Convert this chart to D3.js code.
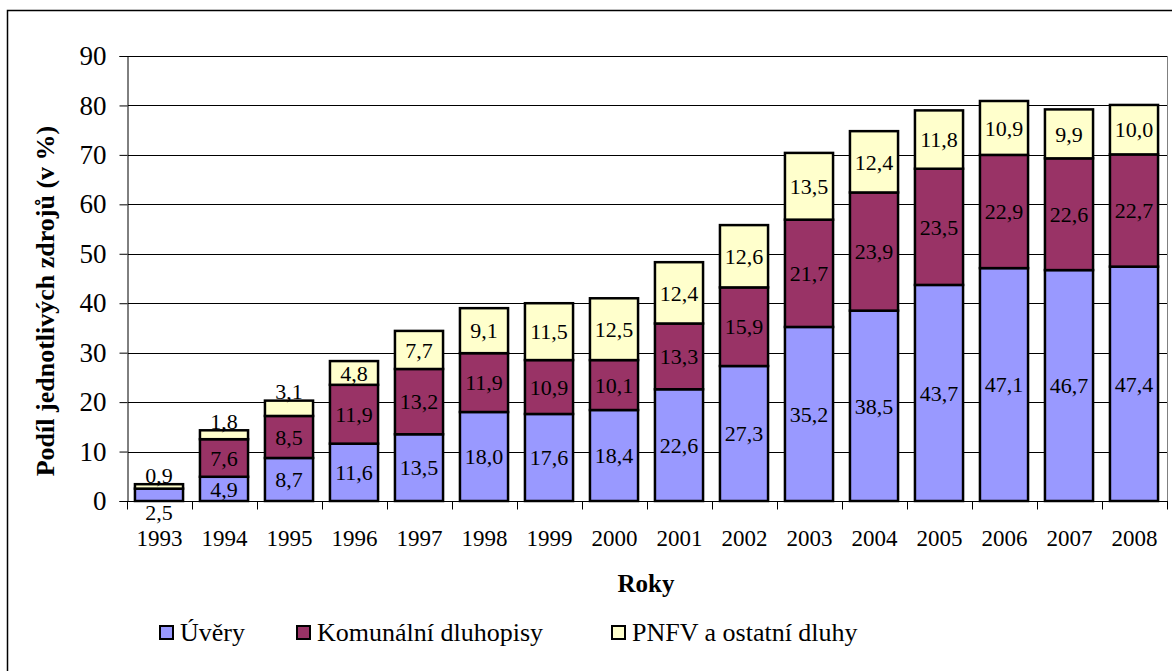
<!DOCTYPE html>
<html>
<head>
<meta charset="utf-8">
<script src="https://cdn.jsdelivr.net/npm/d3@7"></script>
<style>
  body { margin: 0; background: #fff; }
</style>
</head>
<body>
<div class="container"></div>
<script>
const years = ["1993","1994","1995","1996","1997","1998","1999","2000","2001","2002","2003","2004","2005","2006","2007","2008"]
const uvery = [2.5, 4.9, 8.7, 11.6, 13.5, 18.0, 17.6, 18.4, 22.6, 27.3, 35.2, 38.5, 43.7, 47.1, 46.7, 47.4]
const komunalni = [0, 7.6, 8.5, 11.9, 13.2, 11.9, 10.9, 10.1, 13.3, 15.9, 21.7, 23.9, 23.5, 22.9, 22.6, 22.7]
const pnfv = [0.9, 1.8, 3.1, 4.8, 7.7, 9.1, 11.5, 12.5, 12.4, 12.6, 13.5, 12.4, 11.8, 10.9, 9.9, 10.0]
const seriesNames = ["Úvěry", "Komunální dluhopisy", "PNFV a ostatní dluhy"]
const yTicks = [0, 10, 20, 30, 40, 50, 60, 70, 80, 90]

const colors = ["#9999ff", "#993366", "#ffffcc"]
const FONT = "Liberation Serif"
const width = 1172, height = 671
const margin = { top: 56, bottom: 170, left: 128, right: 4 }

const svg = d3.select(".container")
    .append("svg")
    .attr("width", width)
    .attr("height", height)
    .attr("font-family", FONT)

// outer chart frame (right/bottom edges fall outside the picture)
svg.append("rect")
    .attr("x", 7.5).attr("y", 10.5)
    .attr("width", 1200).attr("height", 700)
    .attr("fill", "none").attr("stroke", "#000").attr("stroke-width", 1.5)

const x = d3.scaleBand()
    .domain(years)
    .range([margin.left, width - margin.right])
    .paddingInner(0.26)
    .paddingOuter(0.13)

const y = d3.scaleLinear()
    .domain([0, 90])
    .range([height - margin.bottom, margin.top])

// gridlines
svg.append("g")
    .selectAll("line")
    .data(yTicks.slice(1))
    .join("line")
    .attr("x1", margin.left).attr("x2", width - margin.right)
    .attr("y1", d => Math.round(y(d)) + 0.5).attr("y2", d => Math.round(y(d)) + 0.5)
    .attr("stroke", "#000").attr("stroke-width", 1)

// right border of plot area
svg.append("line")
    .attr("x1", width - margin.right - 0.5).attr("x2", width - margin.right - 0.5)
    .attr("y1", y(90)).attr("y2", y(0))
    .attr("stroke", "#808080")

const data = years.map((yr, i) => ({ year: yr, v: [uvery[i], komunalni[i], pnfv[i]] }))

const bars = svg.append("g")
data.forEach(d => {
    let base = 0
    d.v.forEach((val, s) => {
        if (val > 0) {
            bars.append("rect")
                .attr("x", x(d.year) - 1.5)
                .attr("width", x.bandwidth())
                .attr("y", y(base + val))
                .attr("height", y(base) - y(base + val))
                .attr("fill", colors[s])
                .attr("stroke", "#000")
                .attr("stroke-width", 2.5)
        }
        base += val
    })
})

// axes
const xAxis = svg.append("g")
    .attr("transform", `translate(0, ${Math.round(y(0)) + 0.5})`)
xAxis.append("line")
    .attr("x1", margin.left).attr("x2", width - margin.right)
    .attr("stroke", "#000")
xAxis.selectAll("line.tick")
    .data(d3.range(years.length + 1))
    .join("line")
    .attr("class", "tick")
    .attr("x1", i => Math.round(margin.left + i * x.step()) - 0.5)
    .attr("x2", i => Math.round(margin.left + i * x.step()) - 0.5)
    .attr("y1", 0).attr("y2", 8)
    .attr("stroke", "#000")
xAxis.selectAll("text")
    .data(years)
    .join("text")
    .attr("x", d => x(d) + x.bandwidth() / 2 - 1)
    .attr("y", 44)
    .attr("text-anchor", "middle")
    .attr("font-size", 23)
    .text(d => d)

const yAxis = svg.append("g")
    .attr("transform", `translate(${margin.left - 0.5}, 0)`)
    .call(d3.axisLeft(y).tickValues(yTicks).tickSize(8).tickPadding(13))
yAxis.attr("font-family", FONT).attr("font-size", 27)
yAxis.select(".domain").attr("stroke", "#000")
yAxis.selectAll(".tick line").attr("stroke", "#000")
yAxis.selectAll(".tick text").attr("fill", "#000")

// data labels
const fmt = v => v.toFixed(1).replace(".", ",")
const labels = svg.append("g")
    .attr("font-size", 22)
data.forEach((d, i) => {
    let base = 0
    d.v.forEach((val, s) => {
        if (val > 0) {
            const top = y(base + val), bot = y(base)
            const total = d.v[0] + d.v[1] + d.v[2]
            let ly = (top + bot) / 2
            if (bot - top < 20) {
                // small segments: label outside the bar
                ly = (s === 0 && i === 0) ? y(0) + 11 : y(total) - 9
            }
            labels.append("text")
                .attr("x", x(d.year) + x.bandwidth() / 2 - 1.5)
                .attr("y", ly)
                .attr("dy", "0.35em")
                .attr("text-anchor", "middle")
                .text(fmt(val))
        }
        base += val
    })
})

// axis titles
svg.append("text")
    .attr("transform", "translate(54, 301) rotate(-90)")
    .attr("text-anchor", "middle")
    .attr("font-size", 26)
    .attr("font-weight", "bold")
    .text("Podíl jednotlivých zdrojů (v %)")

svg.append("text")
    .attr("x", 646)
    .attr("y", 592)
    .attr("text-anchor", "middle")
    .attr("font-size", 25)
    .attr("font-weight", "bold")
    .text("Roky")

// legend
const legendX = [160, 297, 612]
const legend = svg.append("g")
    .attr("font-size", 26)
seriesNames.forEach((name, s) => {
    legend.append("rect")
        .attr("x", legendX[s]).attr("y", 626)
        .attr("width", 13).attr("height", 13)
        .attr("fill", colors[s]).attr("stroke", "#000").attr("stroke-width", 2)
    legend.append("text")
        .attr("x", legendX[s] + 20).attr("y", 641)
        .text(name)
})
</script>
</body>
</html>
